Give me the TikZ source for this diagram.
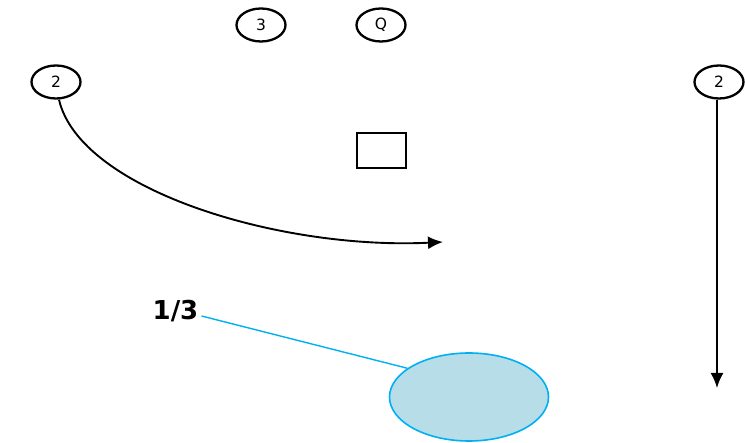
\documentclass[tikz,border=0pt]{standalone}
\usepackage{fontspec}
\setmainfont{DejaVu Sans}
\usetikzlibrary{shapes.geometric,arrows.meta}
\definecolor{zoneFill}{HTML}{B6DDE8}
\definecolor{zoneLine}{HTML}{00B0F0}
\tikzset{
  player/.style={ellipse, draw=black, line width=2.3pt, minimum width=49pt,
    minimum height=33pt, inner sep=0pt, font=\fontsize{15.5}{16}\selectfont},
  route/.style={draw=black, line width=1.9pt, -{Latex[length=15pt,width=13pt]}},
  zone/.style={ellipse, draw=zoneLine, fill=zoneFill, line width=1.6pt,
    minimum width=159pt, minimum height=88pt, inner sep=0pt},
  pointer/.style={draw=zoneLine, line width=1.4pt},
}
\begin{document}
\begin{tikzpicture}[x=1pt, y=-1pt]
  \useasboundingbox (0,0) rectangle (745,443);
  % players
  \node[player] (p3) at (261,25) {3};
  \node[player] (pq) at (381,25) {Q};
  \node[player] (p2l) at (56,82) {2};
  \node[player] (p2r) at (719,82) {2};
  % centre box
  \node[draw=black, line width=2.3pt, minimum width=49pt, minimum height=35pt,
    inner sep=0pt] (box) at (381.5,150.5) {};
  % routes
  \coordinate (curveEnd) at (443,242);
  \coordinate (dropEnd) at (717,388);
  \draw[route] (p2l.south) ++(3,0) .. controls (80,190) and (280,250) .. (curveEnd);
  \draw[route] (p2r.south) ++(-2,0) -- (dropEnd);
  % zone and its label
  \node[zone] (zn) at (469,397) {};
  \node[font=\bfseries\fontsize{26}{28}\selectfont, inner sep=3pt] (lbl) at (175.5,311) {1/3};
  \draw[pointer] ([yshift=-5pt]lbl.east) -- (zn.155);
\end{tikzpicture}
\end{document}
